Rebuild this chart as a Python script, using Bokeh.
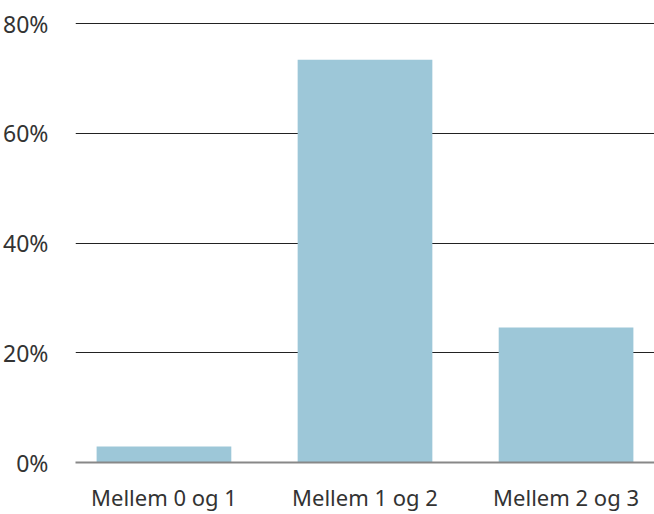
from bokeh.plotting import figure
from bokeh.models import Range1d, FactorRange, ColumnDataSource, NumeralTickFormatter, FixedTicker
from bokeh.embed import file_html
from bokeh.resources import INLINE

categories = ["Mellem 0 og 1", "Mellem 1 og 2", "Mellem 2 og 3"]
values = [0.029, 0.734, 0.246]
y_ticks = [0, 0.2, 0.4, 0.6, 0.8]

FONT = "Noto Sans"
BAR = "#9dc7d8"

src = ColumnDataSource(dict(cat=categories, val=values))

p = figure(
    width=654, height=514,
    x_range=FactorRange(factors=categories, range_padding=-0.06, range_padding_units="absolute"),
    y_range=Range1d(0, 0.802),
    output_backend="svg", toolbar_location=None,
    min_border_left=73, min_border_right=0, min_border_top=22, min_border_bottom=51,
)
p.outline_line_color = None
p.background_fill_color = "white"
p.border_fill_color = "white"

p.vbar(x="cat", top="val", width=0.67, source=src, color=BAR, line_color=None)

# y axis
p.yaxis.ticker = FixedTicker(ticks=y_ticks)
p.yaxis.formatter = NumeralTickFormatter(format="0%")
p.yaxis.axis_line_color = None
p.yaxis.major_tick_line_color = None
p.yaxis.minor_tick_line_color = None
p.yaxis.major_label_text_font = FONT
p.yaxis.major_label_text_font_size = "23px"
p.yaxis.major_label_text_color = "#333333"
p.yaxis.major_label_text_align = "left"
p.yaxis.major_label_standoff = 21

# x axis
p.xaxis.axis_line_color = "#888888"
p.xaxis.axis_line_width = 2
p.xaxis.major_tick_line_color = None
p.xaxis.minor_tick_line_color = None
p.xaxis.major_label_text_font = FONT
p.xaxis.major_label_text_font_size = "22px"
p.xaxis.major_label_text_color = "#333333"
p.xaxis.major_label_standoff = 13

p.xgrid.grid_line_color = None
p.ygrid.grid_line_color = "#222222"
p.ygrid.grid_line_width = 1

open("out.html", "w").write(file_html(p, INLINE))
